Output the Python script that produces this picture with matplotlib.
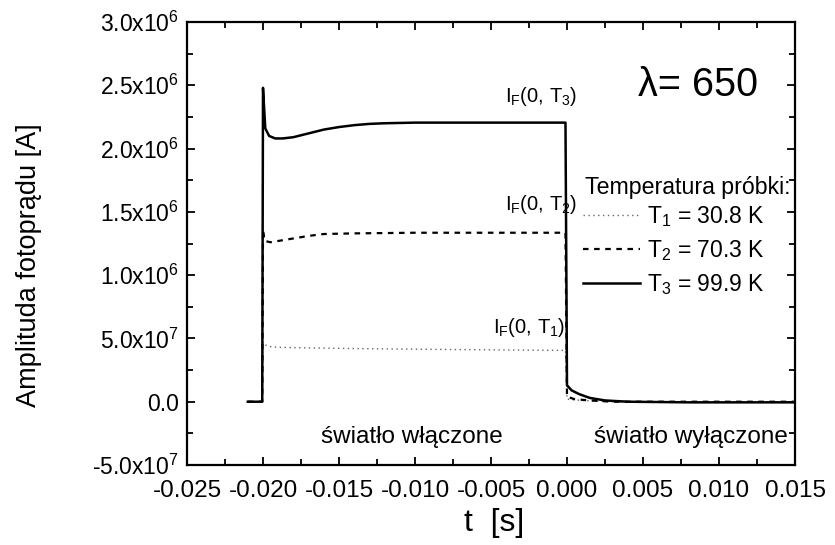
import matplotlib
matplotlib.use("Agg")
import matplotlib.pyplot as plt
from matplotlib.ticker import MultipleLocator, FixedLocator

plt.rcParams['font.family'] = ['Liberation Sans', 'DejaVu Sans']
plt.rcParams['mathtext.fontset'] = 'custom'
plt.rcParams['mathtext.rm'] = 'Liberation Sans'
plt.rcParams['mathtext.it'] = 'Liberation Sans:italic'
plt.rcParams['mathtext.bf'] = 'Liberation Sans:bold'

# ---- data (amplitude in units of 1e6 A) ----
t1 = [-0.021, -0.02005, -0.0200, -0.0199, -0.0195, -0.019, -0.017, -0.014, -0.010,
      -0.005, -0.0001, 0.0, 0.001, 0.003, 0.015]
y1 = [0.0, 0.0, 0.47, 0.45, 0.435, 0.43, 0.425, 0.42, 0.415, 0.41, 0.405, 0.02, 0.01, 0.0, 0.0]

t2 = [-0.021, -0.02005, -0.0200, -0.0199, -0.0195, -0.019, -0.018, -0.017, -0.016, -0.014,
      -0.010, -0.005, -0.0001, 0.0, 0.0005, 0.0015, 0.003, 0.008, 0.015]
y2 = [0.0, 0.0, 1.36, 1.27, 1.26, 1.27, 1.29, 1.31, 1.325, 1.33, 1.335, 1.335, 1.335,
      0.04, 0.02, 0.01, 0.0, 0.0, 0.0]

t3 = [-0.021, -0.02005, -0.0200, -0.01985, -0.0196, -0.0192, -0.0187, -0.018, -0.017,
      -0.016, -0.015, -0.014, -0.013, -0.012, -0.010, -0.005, -0.0001, 0.0, 0.0003,
      0.0008, 0.0015, 0.0025, 0.004, 0.008, 0.015]
y3 = [0.0, 0.0, 2.48, 2.16, 2.10, 2.08, 2.08, 2.09, 2.12, 2.15, 2.17, 2.185, 2.195,
      2.20, 2.205, 2.205, 2.205, 0.13, 0.09, 0.06, 0.03, 0.01, 0.0, -0.005, -0.005]

series_labels = [r"T$_1$ = 30.8 K", r"T$_2$ = 70.3 K", r"T$_3$ = 99.9 K"]
curve_tags = [r"I$_\mathrm{F}$(0, T$_1$)", r"I$_\mathrm{F}$(0, T$_2$)", r"I$_\mathrm{F}$(0, T$_3$)"]

xticks = [-0.025, -0.020, -0.015, -0.010, -0.005, 0.000, 0.005, 0.010, 0.015]
xticklabels = ["-0.025", "-0.020", "-0.015", "-0.010", "-0.005", "0.000", "0.005", "0.010", "0.015"]
yticks = [-0.5, 0.0, 0.5, 1.0, 1.5, 2.0, 2.5, 3.0]
yticklabels = [r"-5.0x10$^7$", "0.0", r"5.0x10$^7$", r"1.0x10$^6$", r"1.5x10$^6$",
               r"2.0x10$^6$", r"2.5x10$^6$", r"3.0x10$^6$"]

fig = plt.figure(figsize=(8.35, 5.45), dpi=100)
ax = fig.add_axes([187/835, 1-465/545, (795-187)/835, (465-22)/545])

ax.plot(t1, y1, color='#666666', lw=1.0, linestyle=(0, (1, 2.5)), label=series_labels[0])
ax.plot(t2, y2, color='black', lw=1.6, linestyle=(0, (2.5, 2.5)), label=series_labels[1])
ax.plot(t3, y3, color='black', lw=1.8, linestyle='-', label=series_labels[2])

ax.set_xlim(-0.025, 0.015)
ax.set_ylim(-0.5, 3.0)
ax.xaxis.set_major_locator(FixedLocator(xticks))
ax.set_xticklabels(xticklabels)
ax.yaxis.set_major_locator(FixedLocator(yticks))
ax.set_yticklabels(yticklabels)
ax.xaxis.set_minor_locator(MultipleLocator(0.0025))
ax.yaxis.set_minor_locator(MultipleLocator(0.25))
ax.tick_params(which='both', direction='in', top=True, right=True, width=1.3)
ax.tick_params(which='major', length=6)
ax.tick_params(which='minor', length=4)
ax.tick_params(axis='x', which='major', labelsize=17.5, pad=11)
ax.tick_params(axis='y', which='major', labelsize=16.5, pad=6)
for s in ax.spines.values():
    s.set_linewidth(1.6)

ax.set_xlabel("t  [s]", fontsize=23)
ax.xaxis.set_label_coords(0.505, -0.096)
ax.set_ylabel("Amplituda fotoprądu [A]", fontsize=19.5)
ax.yaxis.set_label_coords(-0.238, 0.45)

ax.text(-0.0041, 2.41, curve_tags[2], fontsize=14.5, va='center', ha='left')
ax.text(-0.0041, 1.555, curve_tags[1], fontsize=14.5, va='center', ha='left')
ax.text(-0.0049, 0.59, curve_tags[0], fontsize=14.5, va='center', ha='left')
ax.text(0.0047, 2.50, "λ= 650", fontsize=28.5, va='center', ha='left')
ax.text(-0.0162, -0.28, "światło włączone", fontsize=17.5, va='center', ha='left')
ax.text(0.00176, -0.28, "światło wyłączone", fontsize=17.5, va='center', ha='left')

fig.text(585/835, 1-187/545, "Temperatura próbki:", fontsize=16.7, va='center', ha='left')
leg = ax.legend(loc='upper left',
                bbox_to_anchor=(583/835, 1-204/545), bbox_transform=fig.transFigure,
                frameon=False, fontsize=16.5,
                handlelength=2.5, handletextpad=0.3, labelspacing=0.4,
                borderaxespad=0, borderpad=0)

fig.savefig("out.png", dpi=100)
